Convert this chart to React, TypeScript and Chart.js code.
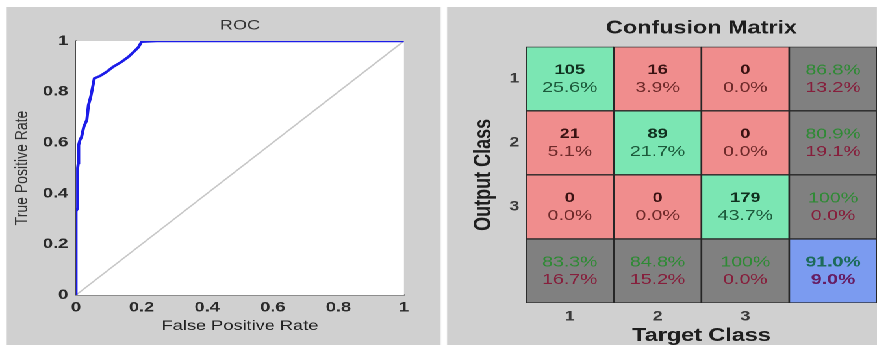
import React, { useEffect, useRef } from 'react';
import { Chart, registerables } from 'chart.js';

Chart.register(...registerables);

const FONT = '"Liberation Sans", Arial, Helvetica, sans-serif';

// ROC curve (false positive rate vs true positive rate)
const rocFpr = [0, 0, 0.004, 0.005, 0.007, 0.008, 0.012, 0.017, 0.024, 0.033, 0.038, 0.045, 0.051, 0.056, 0.073, 0.094, 0.114, 0.139, 0.16, 0.18, 0.19, 0.2, 0.246, 1];
const rocTpr = [0, 0.33, 0.34, 0.5, 0.52, 0.59, 0.61, 0.623, 0.663, 0.689, 0.748, 0.781, 0.82, 0.853, 0.862, 0.879, 0.899, 0.918, 0.938, 0.962, 0.975, 0.997, 1, 1];
// chance diagonal
const chanceFpr = [0, 1];
const chanceTpr = [0, 1];
const rocTicks = [0, 0.2, 0.4, 0.6, 0.8, 1];
const rocTickLabels = ['0', '0.2', '0.4', '0.6', '0.8', '1'];

// Confusion matrix: rows = output class, columns = target class
const classLabels = ['1', '2', '3'];
const counts = [
  [105, 16, 0],
  [21, 89, 0],
  [0, 0, 179],
];

// The whole figure is drawn in a narrower space and stretched horizontally
const VIEW_W = 877;
const INNER_W = 675;
const STRETCH = VIEW_W / INNER_W;
const H = 345;

const COLORS = {
  panel: '#d0d0d0',
  correct: '#7be6b3',
  wrong: '#f08d8d',
  summary: '#808080',
  overall: '#7b9bf0',
  cellBorder: '#262626',
};

const pct = (v: number) => (Math.abs(v - 100) < 1e-9 ? '100%' : v.toFixed(1) + '%');

const whiteArea = {
  id: 'whiteArea',
  beforeDatasetsDraw(chart: any) {
    const { ctx, chartArea } = chart;
    ctx.save();
    ctx.fillStyle = '#ffffff';
    ctx.fillRect(chartArea.left, chartArea.top, chartArea.right - chartArea.left, chartArea.bottom - chartArea.top);
    ctx.restore();
  },
};

function RocChart() {
  const ref = useRef<HTMLCanvasElement | null>(null);
  useEffect(() => {
    if (!ref.current) return;
    const rocPoints = rocFpr.map((x, i) => ({ x, y: rocTpr[i] }));
    const chancePoints = chanceFpr.map((x, i) => ({ x, y: chanceTpr[i] }));
    const tickFont = { family: FONT, size: 14, weight: 'bold' };
    const chart = new Chart(ref.current, {
      type: 'scatter',
      data: {
        datasets: [
          {
            data: chancePoints,
            showLine: true,
            borderColor: '#c6c6c6',
            borderWidth: 1.3,
            pointRadius: 0,
            order: 2,
          },
          {
            data: rocPoints,
            showLine: true,
            borderColor: '#1c1ce8',
            borderWidth: 2.4,
            pointRadius: 0,
            order: 1,
          },
        ],
      },
      options: {
        animation: false,
        responsive: false,
        devicePixelRatio: 2,
        layout: { padding: { left: 0, top: 0, right: 29.1, bottom: 0 } },
        plugins: {
          legend: { display: false },
          tooltip: { enabled: false },
          title: {
            display: true,
            text: 'ROC',
            fullSize: false,
            color: '#333333',
            font: { family: FONT, size: 14, weight: 'normal' },
            padding: { top: 17.1, bottom: 7.1 },
          },
        },
        scales: {
          x: {
            type: 'linear',
            min: 0,
            max: 1,
            afterBuildTicks: (s: any) => {
              s.ticks = rocTicks.map((v) => ({ value: v }));
            },
            afterFit: (s: any) => {
              s.height = 50;
            },
            grid: { display: false, drawTicks: false },
            border: { display: true, color: '#4a4a4a', width: 1 },
            ticks: {
              color: '#2a2a2a',
              font: tickFont,
              padding: 4,
              maxRotation: 0,
              callback: (_v: any, i: number) => rocTickLabels[i],
            },
            title: {
              display: true,
              text: 'False Positive Rate',
              color: '#222222',
              font: { family: FONT, size: 14 },
              padding: { top: 0, bottom: 10.6 },
            },
          },
          y: {
            type: 'linear',
            min: 0,
            max: 1,
            afterBuildTicks: (s: any) => {
              s.ticks = rocTicks.map((v) => ({ value: v }));
            },
            afterFit: (s: any) => {
              s.width = 58.5;
            },
            grid: { display: false, drawTicks: false },
            border: { display: true, color: '#4a4a4a', width: 1 },
            ticks: {
              color: '#2a2a2a',
              font: tickFont,
              padding: 6,
              callback: (_v: any, i: number) => rocTickLabels[i],
            },
            title: {
              display: true,
              text: 'True Positive Rate',
              color: '#333333',
              font: { family: FONT, size: 14 },
              padding: { top: 8.6, bottom: 0 },
            },
          },
        },
      },
      plugins: [whiteArea],
    } as any);
    return () => chart.destroy();
  }, []);
  return <canvas ref={ref} width={340} height={H} style={{ position: 'absolute', left: 0, top: 0 }} />;
}

function ConfusionChart() {
  const ref = useRef<HTMLCanvasElement | null>(null);
  useEffect(() => {
    if (!ref.current) return;
    const n = classLabels.length;
    const total = counts.flat().reduce((a, b) => a + b, 0);
    const rowSums = counts.map((r) => r.reduce((a, b) => a + b, 0));
    const colSums = classLabels.map((_, c) => counts.reduce((a, r) => a + r[c], 0));
    const trace = counts.reduce((a, r, i) => a + r[i], 0);

    const cellColor = (r: number, c: number) => {
      if (r === n && c === n) return COLORS.overall;
      if (r === n || c === n) return COLORS.summary;
      return r === c ? COLORS.correct : COLORS.wrong;
    };

    const datasets = Array.from({ length: n + 1 }, (_, r) => ({
      data: Array.from({ length: n + 1 }, () => [r, r + 1]),
      backgroundColor: Array.from({ length: n + 1 }, (_, c) => cellColor(r, c)),
      borderColor: COLORS.cellBorder,
      borderWidth: 1,
      borderSkipped: false,
      grouped: false,
      barPercentage: 1,
      categoryPercentage: 1,
    }));

    const cellText = {
      id: 'cellText',
      afterDatasetsDraw(chart: any) {
        const { ctx } = chart;
        ctx.save();
        ctx.textAlign = 'center';
        ctx.textBaseline = 'middle';
        for (let r = 0; r <= n; r++) {
          const meta = chart.getDatasetMeta(r);
          for (let c = 0; c <= n; c++) {
            const el = meta.data[c];
            const p = el.getProps(['x', 'y', 'base'], true);
            const cx = p.x;
            const cy = (p.y + p.base) / 2;
            let top = '';
            let bottom = '';
            let topColor = '#111';
            let bottomColor = '#111';
            let topFont = `bold 14px ${FONT}`;
            let bottomFont = `15px ${FONT}`;
            if (r < n && c < n) {
              top = String(counts[r][c]);
              bottom = pct((counts[r][c] / total) * 100);
              if (r === c) {
                topColor = '#10301f';
                bottomColor = '#1c5a3b';
              } else {
                topColor = '#3a1212';
                bottomColor = '#6e2a2a';
              }
            } else if (r === n && c === n) {
              const acc = (trace / total) * 100;
              top = pct(acc);
              bottom = pct(100 - acc);
              topColor = '#1d6b5b';
              bottomColor = '#661d63';
              topFont = `bold 15px ${FONT}`;
              bottomFont = `bold 15px ${FONT}`;
            } else {
              const ok = c === n ? (counts[r][r] / rowSums[r]) * 100 : (counts[c][c] / colSums[c]) * 100;
              top = pct(ok);
              bottom = pct(100 - ok);
              topColor = '#2f8a35';
              bottomColor = '#861f3c';
              topFont = `15px ${FONT}`;
              bottomFont = `15px ${FONT}`;
            }
            ctx.font = topFont;
            ctx.fillStyle = topColor;
            ctx.fillText(top, cx, cy - 8.5);
            ctx.font = bottomFont;
            ctx.fillStyle = bottomColor;
            ctx.fillText(bottom, cx, cy + 9);
          }
        }
        ctx.restore();
      },
    };

    const chart = new Chart(ref.current, {
      type: 'bar',
      data: { labels: [...classLabels, ''], datasets },
      options: {
        animation: false,
        responsive: false,
        devicePixelRatio: 2,
        layout: { padding: { left: 0, top: 0, right: 0, bottom: 0 } },
        plugins: {
          legend: { display: false },
          tooltip: { enabled: false },
          title: {
            display: true,
            text: 'Confusion Matrix',
            fullSize: false,
            color: '#1e1e1e',
            font: { family: FONT, size: 18, weight: 'bold', lineHeight: 1.2 },
            padding: { top: 17.7, bottom: 7.4 },
          },
        },
        scales: {
          x: {
            type: 'category',
            afterFit: (s: any) => {
              s.height = 42;
            },
            grid: { display: false, drawTicks: false },
            border: { display: false },
            ticks: { color: '#3a3a3a', font: { family: FONT, size: 14, weight: 'bold' }, padding: 5, maxRotation: 0 },
            title: {
              display: true,
              text: 'Target Class',
              color: '#1e1e1e',
              font: { family: FONT, size: 18, weight: 'bold', lineHeight: 1 },
              padding: { top: 0, bottom: 0 },
            },
          },
          y: {
            type: 'linear',
            min: 0,
            max: n + 1,
            reverse: true,
            afterBuildTicks: (s: any) => {
              s.ticks = classLabels.map((_, i) => ({ value: i + 0.5 }));
            },
            afterFit: (s: any) => {
              s.width = 60.8;
            },
            grid: { display: false, drawTicks: false },
            border: { display: false },
            ticks: {
              color: '#3a3a3a',
              font: { family: FONT, size: 14, weight: 'bold' },
              padding: 5,
              callback: (_v: any, i: number) => classLabels[i],
            },
            title: {
              display: true,
              text: 'Output Class',
              color: '#1e1e1e',
              font: { family: FONT, size: 18, weight: 'bold', lineHeight: 1 },
              padding: { top: 19.5, bottom: 0 },
            },
          },
        },
      },
      plugins: [cellText],
    } as any);
    return () => chart.destroy();
  }, []);
  return <canvas ref={ref} width={331} height={H} style={{ position: 'absolute', left: 344, top: 0 }} />;
}

export default function App() {
  return (
    <div
      style={{
        position: 'fixed',
        left: 0,
        top: 0,
        width: VIEW_W,
        height: H,
        overflow: 'hidden',
        background: '#ffffff',
      }}
    >
      <div
        style={{
          position: 'absolute',
          left: 0,
          top: 0,
          width: INNER_W,
          height: H,
          transform: `scaleX(${STRETCH})`,
          transformOrigin: '0 0',
        }}
      >
        <div style={{ position: 'absolute', left: 5.4, top: 7, width: 333.2, height: H - 7, background: COLORS.panel }} />
        <div style={{ position: 'absolute', left: 344, top: 7, width: INNER_W - 344, height: H - 7, background: COLORS.panel }} />
        <RocChart />
        <ConfusionChart />
      </div>
    </div>
  );
}
